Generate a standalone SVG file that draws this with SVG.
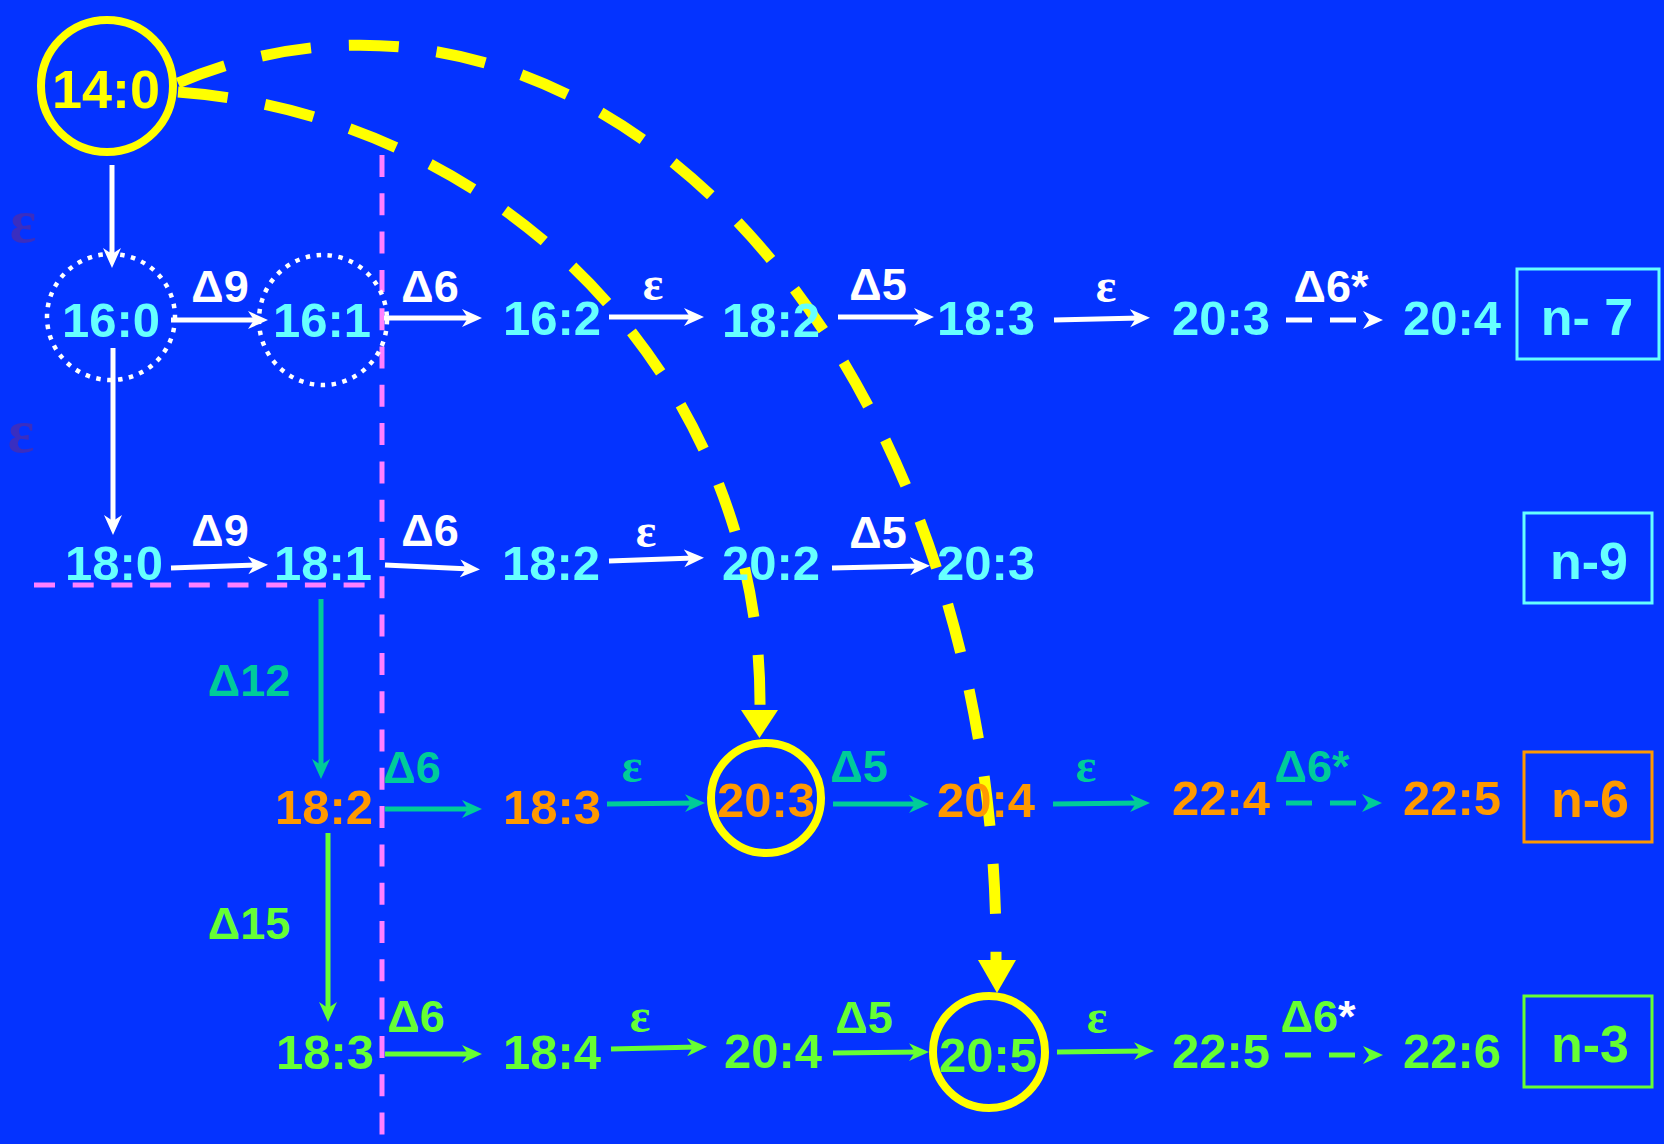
<svg xmlns="http://www.w3.org/2000/svg" width="1664" height="1144" viewBox="0 0 1664 1144">
<defs>
<style>
text{font-family:"Liberation Sans",Arial,sans-serif;font-weight:bold;text-anchor:middle}
.node{font-size:49px}
.lbl{font-size:45px}
.eps{font-size:48px;font-family:"Liberation Serif","Times New Roman",serif}
.cy{fill:#66FFFF}.or{fill:#FF9900}.gr{fill:#66FF33}.te{fill:#00CC99}.wh{fill:#FFFFFF}.ye{fill:#FFFF00}
.box{fill:none;stroke-width:3}
.aw{stroke:#FFFFFF;stroke-width:5;fill:none;marker-end:url(#hw)}
.at{stroke:#00CC99;stroke-width:5;fill:none;marker-end:url(#ht)}
.ag{stroke:#66FF33;stroke-width:5;fill:none;marker-end:url(#hg)}
.dash{stroke-dasharray:26 18}
.yc{stroke:#FFFF00;stroke-width:11;fill:none;stroke-dasharray:50 38}
.pink{stroke:#FF80FF;stroke-width:5;fill:none}
.dot{fill:none;stroke:#FFFFFF;stroke-width:4.5;stroke-dasharray:4.5 6.5}
.yring{fill:none;stroke:#FFFF00;stroke-width:8}
</style>
<marker id="hw" viewBox="0 0 20 20" refX="10" refY="10" markerWidth="20" markerHeight="20" markerUnits="userSpaceOnUse" orient="auto"><path d="M0,1 L20,10 L0,19 L6,10 Z" fill="#FFFFFF"/></marker>
<marker id="ht" viewBox="0 0 20 20" refX="10" refY="10" markerWidth="20" markerHeight="20" markerUnits="userSpaceOnUse" orient="auto"><path d="M0,1 L20,10 L0,19 L6,10 Z" fill="#00CC99"/></marker>
<marker id="hg" viewBox="0 0 20 20" refX="10" refY="10" markerWidth="20" markerHeight="20" markerUnits="userSpaceOnUse" orient="auto"><path d="M0,1 L20,10 L0,19 L6,10 Z" fill="#66FF33"/></marker>
</defs>
<rect width="1664" height="1144" fill="#0433FF"/>

<g id="guides">
<line class="pink" x1="382" y1="155" x2="382" y2="1144" stroke-dasharray="22 16.3"/>
<line class="pink" x1="34" y1="585" x2="365" y2="585" stroke-dasharray="21 17.7"/>
</g>

<g id="connectors">
<path class="yc" d="M178,83 A636,905 0 0 1 996,950 L996,962"/>
<polygon points="978,960 1016,960 997,993" fill="#FFFF00"/>
<path class="yc" d="M178,92 A630,612 0 0 1 760,702 L760,712"/>
<polygon points="741,710 778,710 759.5,738" fill="#FFFF00"/>
<line class="aw" x1="112" y1="165" x2="112" y2="258"/>
<line class="aw" x1="113" y1="348" x2="113" y2="525"/>
<line class="at" x1="321" y1="599" x2="321" y2="769"/>
<line class="ag" x1="328" y1="833" x2="328" y2="1012"/>
<line class="aw" x1="171" y1="320" x2="258" y2="320"/>
<line class="aw" x1="384" y1="318" x2="472" y2="318"/>
<line class="aw" x1="609" y1="317" x2="694" y2="317"/>
<line class="aw" x1="838" y1="317" x2="924" y2="317"/>
<line class="aw" x1="1054" y1="320" x2="1140" y2="318"/>
<line class="aw dash" x1="1286" y1="320" x2="1373" y2="320"/>
<line class="aw" x1="171" y1="568" x2="258" y2="565"/>
<line class="aw" x1="385" y1="565" x2="470" y2="569"/>
<line class="aw" x1="609" y1="561" x2="694" y2="558"/>
<line class="aw" x1="832" y1="568" x2="920" y2="566"/>
<line class="at" x1="385" y1="809" x2="472" y2="809"/>
<line class="at" x1="607" y1="804" x2="695" y2="803"/>
<line class="at" x1="833" y1="804" x2="919" y2="804"/>
<line class="at" x1="1053" y1="804" x2="1140" y2="803"/>
<line class="at dash" x1="1286" y1="803" x2="1372" y2="803"/>
<line class="ag" x1="385" y1="1054" x2="472" y2="1054"/>
<line class="ag" x1="611" y1="1049" x2="697" y2="1047"/>
<line class="ag" x1="833" y1="1053" x2="919" y2="1052"/>
<line class="ag" x1="1057" y1="1052" x2="1144" y2="1051"/>
<line class="ag dash" x1="1285" y1="1055" x2="1373" y2="1055"/>
</g>

<g id="labels">
<text class="eps" x="23" y="242" style="font-size:62px" fill="#3A2EC0">ε</text>
<text class="eps" x="21" y="452" style="font-size:62px" fill="#3A2EC0">ε</text>
<text class="lbl wh" x="220" y="302">Δ9</text>
<text class="lbl wh" x="430" y="302">Δ6</text>
<text class="eps wh" x="653" y="300">ε</text>
<text class="lbl wh" x="878" y="300">Δ5</text>
<text class="eps wh" x="1106" y="302">ε</text>
<text class="lbl wh" x="1331" y="302">Δ6*</text>
<text class="lbl wh" x="220" y="546">Δ9</text>
<text class="lbl wh" x="430" y="546">Δ6</text>
<text class="eps wh" x="646" y="547">ε</text>
<text class="lbl wh" x="878" y="548">Δ5</text>
<text class="lbl te" x="249" y="696">Δ12</text>
<text class="lbl te" x="412" y="783">Δ6</text>
<text class="eps te" x="632" y="782">ε</text>
<text class="lbl te" x="859" y="782">Δ5</text>
<text class="eps te" x="1086" y="782">ε</text>
<text class="lbl te" x="1312" y="782">Δ6*</text>
<text class="lbl gr" x="249" y="939">Δ15</text>
<text class="lbl gr" x="416" y="1032">Δ6</text>
<text class="eps gr" x="640" y="1032">ε</text>
<text class="lbl gr" x="864" y="1033">Δ5</text>
<text class="eps gr" x="1097" y="1033">ε</text>
<text class="lbl gr" x="1318" y="1032">Δ6<tspan class="wh">*</tspan></text>
</g>

<g id="n14-0"><circle class="yring" cx="107" cy="86" r="66"/><text class="ye" x="106" y="108" style="font-size:54px">14:0</text></g>
<g id="r1-16-0"><ellipse class="dot" cx="111" cy="317" rx="64" ry="63"/><text class="node cy" x="111" y="337">16:0</text></g>
<g id="r1-16-1"><ellipse class="dot" cx="323" cy="320" rx="64" ry="65"/><text class="node cy" x="322" y="337">16:1</text></g>
<g id="r1-16-2"><text class="node cy" x="552" y="335">16:2</text></g>
<g id="r1-18-2"><text class="node cy" x="771" y="337">18:2</text></g>
<g id="r1-18-3"><text class="node cy" x="986" y="335">18:3</text></g>
<g id="r1-20-3"><text class="node cy" x="1221" y="335">20:3</text></g>
<g id="r1-20-4"><text class="node cy" x="1452" y="335">20:4</text></g>
<g id="box-n7"><rect class="box" x="1517" y="269" width="142" height="90" stroke="#66FFFF"/><text class="cy" x="1587" y="335" style="font-size:52px">n- 7</text></g>

<g id="r2-18-0"><text class="node cy" x="114" y="580">18:0</text></g>
<g id="r2-18-1"><text class="node cy" x="323" y="580">18:1</text></g>
<g id="r2-18-2"><text class="node cy" x="551" y="580">18:2</text></g>
<g id="r2-20-2"><text class="node cy" x="771" y="580">20:2</text></g>
<g id="r2-20-3"><text class="node cy" x="986" y="580">20:3</text></g>
<g id="box-n9"><rect class="box" x="1524" y="513" width="128" height="90" stroke="#66FFFF"/><text class="cy" x="1589" y="579" style="font-size:52px">n-9</text></g>

<g id="r3-18-2"><text class="node or" x="324" y="824">18:2</text></g>
<g id="r3-18-3"><text class="node or" x="552" y="824">18:3</text></g>
<g id="r3-20-3"><circle class="yring" cx="766" cy="798" r="55"/><text class="node or" x="766" y="817">20:3</text></g>
<g id="r3-20-4"><text class="node or" x="986" y="817">20:4</text></g>
<g id="r3-22-4"><text class="node or" x="1221" y="815">22:4</text></g>
<g id="r3-22-5"><text class="node or" x="1452" y="815">22:5</text></g>
<g id="box-n6"><rect class="box" x="1524" y="752" width="128" height="90" stroke="#FF9900"/><text class="or" x="1590" y="817" style="font-size:52px">n-6</text></g>

<g id="r4-18-3"><text class="node gr" x="325" y="1069">18:3</text></g>
<g id="r4-18-4"><text class="node gr" x="552" y="1069">18:4</text></g>
<g id="r4-20-4"><text class="node gr" x="773" y="1068">20:4</text></g>
<g id="r4-20-5"><circle class="yring" cx="989" cy="1052" r="56"/><text class="node gr" x="988" y="1072">20:5</text></g>
<g id="r4-22-5"><text class="node gr" x="1221" y="1068">22:5</text></g>
<g id="r4-22-6"><text class="node gr" x="1452" y="1068">22:6</text></g>
<g id="box-n3"><rect class="box" x="1524" y="996" width="128" height="91" stroke="#66FF33"/><text class="gr" x="1590" y="1062" style="font-size:52px">n-3</text></g>
</svg>
